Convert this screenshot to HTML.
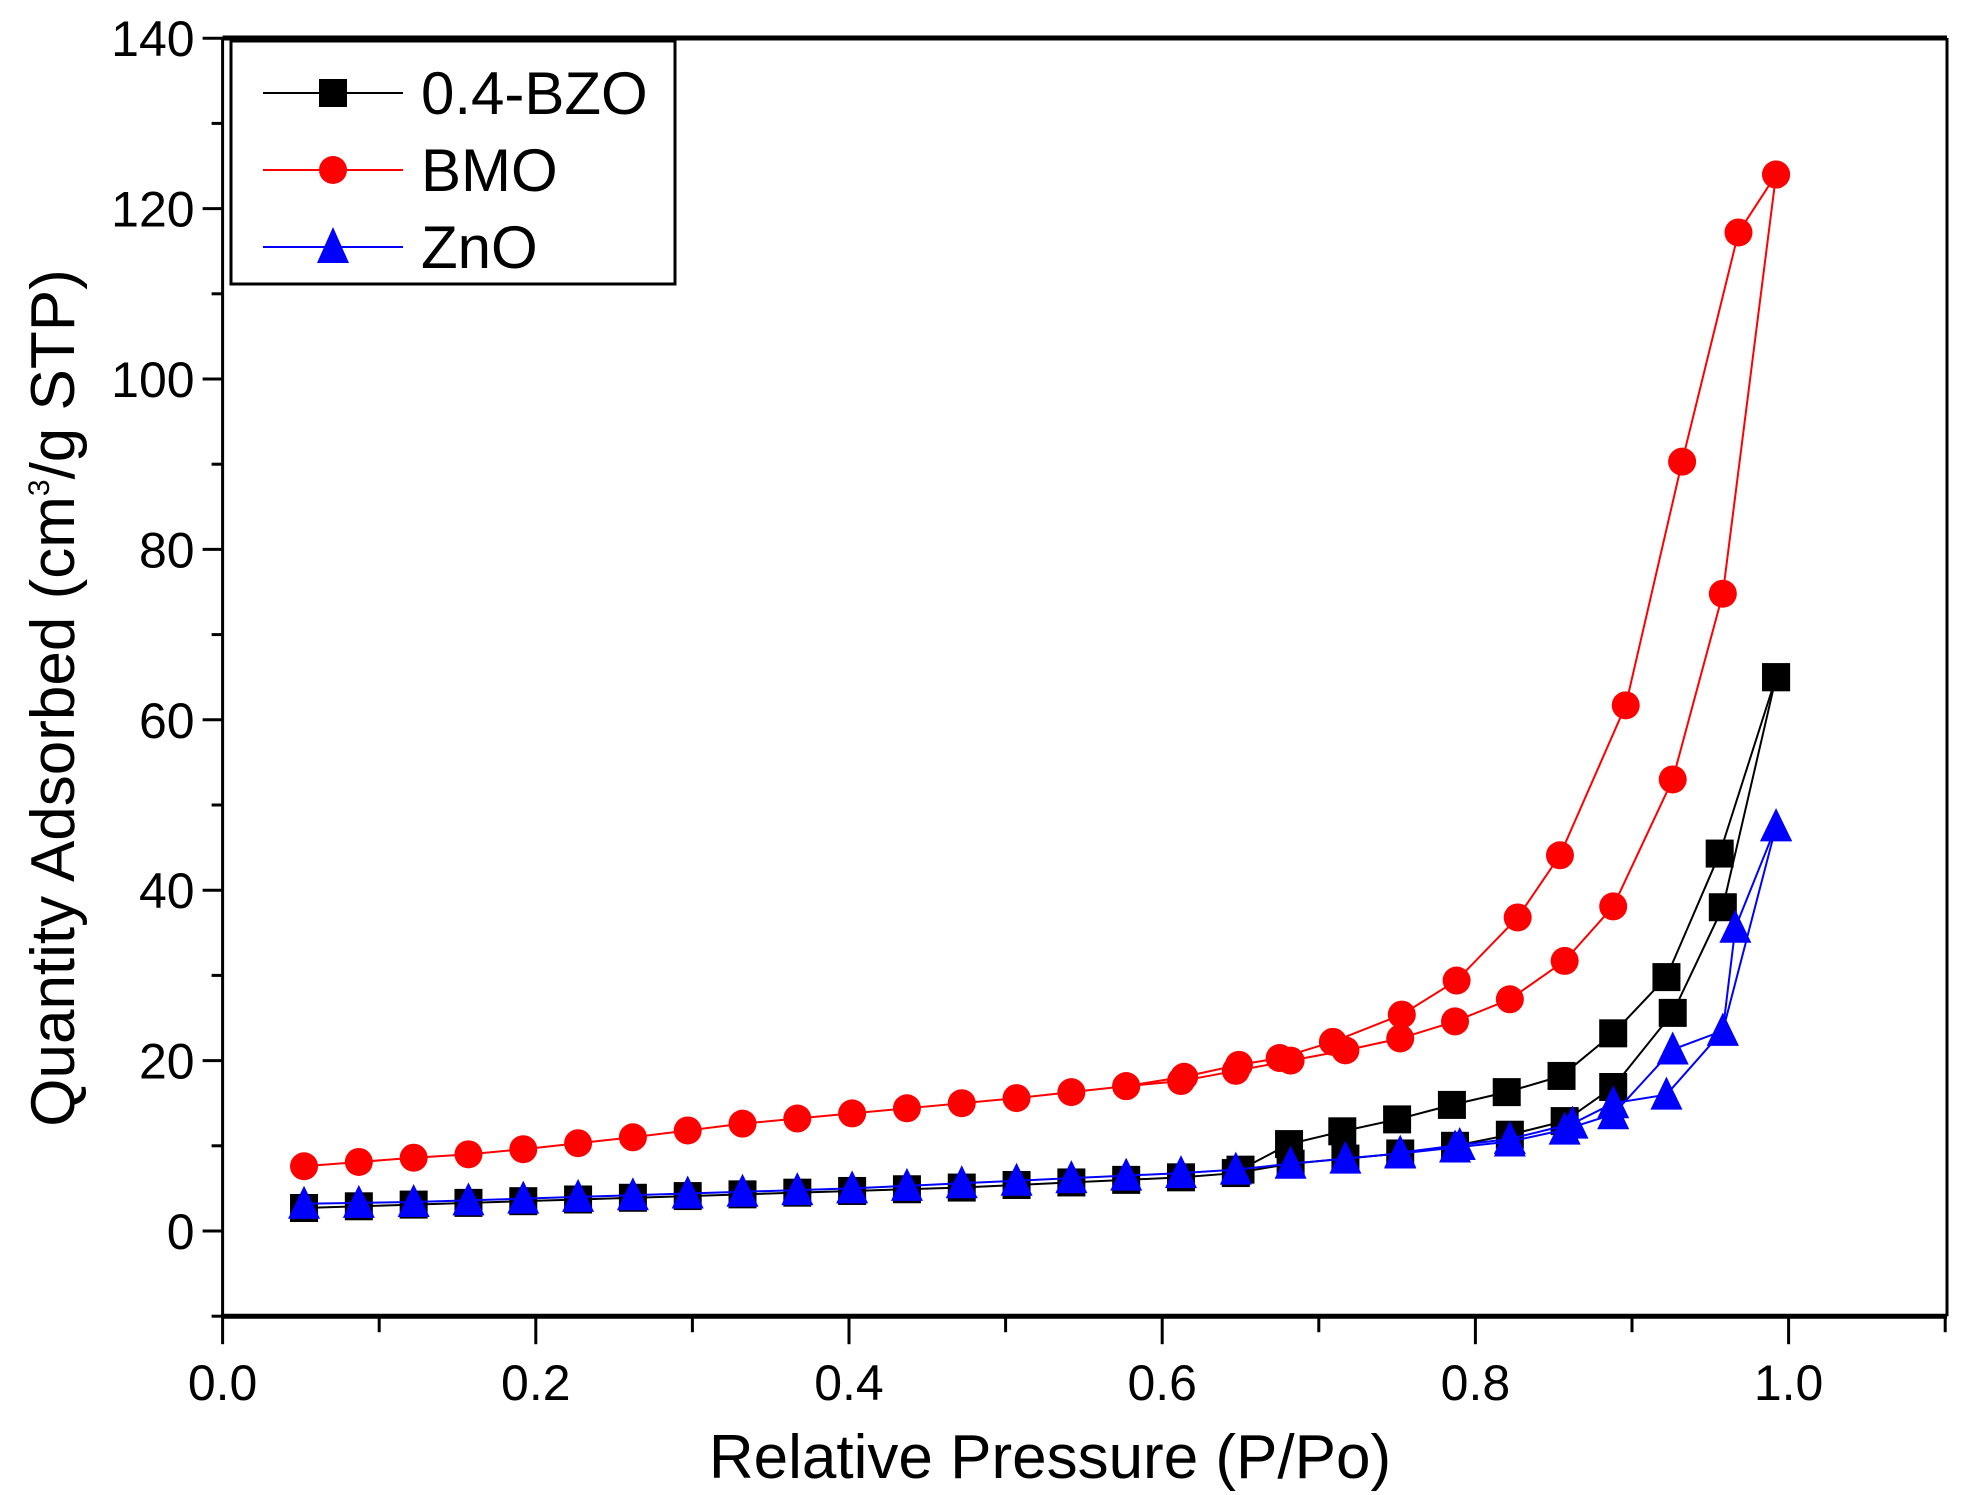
<!DOCTYPE html>
<html><head><meta charset="utf-8"><style>
html,body{margin:0;padding:0;background:#fff;}
svg{display:block;font-family:"Liberation Sans",Arial,sans-serif;}
</style></head><body>
<svg id="s" width="1972" height="1495" viewBox="0 0 1972 1495" xmlns="http://www.w3.org/2000/svg">
<rect width="1972" height="1495" fill="#fff"/>
<g id="ax"></g>
<g id="data"></g>
<rect x="231" y="41" width="444" height="243" fill="#fff" stroke="#000" stroke-width="3"/>
<line x1="263" y1="93" x2="403" y2="93" stroke="#000" stroke-width="2"/>
<rect x="319" y="79" width="28" height="28" fill="#000"/>
<text x="421" y="114" font-size="60">0.4-BZO</text>
<line x1="263" y1="170" x2="403" y2="170" stroke="#f00" stroke-width="2"/>
<circle cx="333" cy="170" r="14" fill="#f00"/>
<text x="421" y="191" font-size="60">BMO</text>
<line x1="263" y1="247" x2="403" y2="247" stroke="#00f" stroke-width="2"/>
<polygon points="333,227 317,263 349,263" fill="#00f"/>
<text x="421" y="268" font-size="60">ZnO</text>
<text x="1050" y="1478" font-size="62" text-anchor="middle">Relative Pressure (P/Po)</text>
<text transform="translate(74,698) rotate(-90)" font-size="62" text-anchor="middle">Quantity Adsorbed (cm<tspan font-size="30" dy="-25">3</tspan><tspan dy="25">/g STP)</tspan></text>
</svg>
<script>
const X=x=>222.6+x*1566, Y=y=>1231-y*8.52;
const NS="http://www.w3.org/2000/svg";
function el(p,t,a){const e=document.createElementNS(NS,t);for(const k in a)e.setAttribute(k,a[k]);p.appendChild(e);return e;}
const ax=document.getElementById('ax');
const L=222.6,R=1947,T=38,B=Y(-10);
el(ax,'line',{x1:L,y1:T,x2:R,y2:T,stroke:'#000','stroke-width':5});
el(ax,'line',{x1:L,y1:B,x2:R,y2:B,stroke:'#000','stroke-width':5});
el(ax,'line',{x1:L,y1:T,x2:L,y2:B,stroke:'#000','stroke-width':3});
el(ax,'line',{x1:R,y1:T,x2:R,y2:B,stroke:'#000','stroke-width':3});
for(let v=-10;v<=140;v+=10){const y=Y(v);const maj=v%20==0;
 el(ax,'line',{x1:L-(maj?20:11),y1:y,x2:L,y2:y,stroke:'#000','stroke-width':3});
 if(maj){const t=el(ax,'text',{x:L-28,y:y+18,'font-size':50,'text-anchor':'end'});t.textContent=v;}}
for(let i=0;i<=11;i++){const x=X(i/10);const maj=i%2==0;
 el(ax,'line',{x1:x,y1:B,x2:x,y2:B+(maj?28:16),stroke:'#000','stroke-width':3});
 if(maj&&i<=10){const t=el(ax,'text',{x:x,y:B+84,'font-size':50,'text-anchor':'middle'});t.textContent=(i/10).toFixed(1);}}
const xa=[0.052,0.087,0.122,0.157,0.192,0.227,0.262,0.297,0.332,0.367,0.402,0.437,0.472,0.507,0.542,0.577,0.612,0.647,0.682,0.717,0.752,0.787,0.822,0.857,0.888,0.926,0.958,0.992];
const bmoA=[7.6,8.1,8.6,9.0,9.6,10.3,11.0,11.8,12.6,13.2,13.8,14.4,15.0,15.6,16.3,17.0,17.6,18.8,20.0,21.2,22.6,24.6,27.2,31.7,38.1,53,74.8,124];
const bmoD=[[0.992,124],[0.968,117.2],[0.932,90.3],[0.896,61.7],[0.854,44.1],[0.827,36.8],[0.788,29.4],[0.753,25.4],[0.709,22.2],[0.675,20.3],[0.649,19.5],[0.614,18.1],[0.577,17.0]];
const bzoA=[2.7,2.9,3.1,3.3,3.5,3.7,3.9,4.1,4.3,4.5,4.7,4.9,5.1,5.4,5.7,6.0,6.3,6.8,7.9,8.5,9.1,10,11.3,12.9,16.9,25.6,38,65];
const bzoD=[[0.992,65],[0.956,44.3],[0.922,29.8],[0.888,23.2],[0.855,18.2],[0.82,16.3],[0.785,14.8],[0.75,13.1],[0.715,11.7],[0.681,10.2],[0.65,7.2]];
const znA=[3.2,3.3,3.4,3.6,3.8,4.0,4.2,4.4,4.6,4.8,5.0,5.3,5.6,5.9,6.2,6.5,6.8,7.2,7.9,8.5,9.1,9.8,10.5,11.9,13.7,21.3,23.5,47.5];
const znD=[[0.992,47.5],[0.966,35.6],[0.958,23.5],[0.922,16],[0.888,15],[0.862,12.6],[0.822,10.8],[0.79,10.1],[0.752,9.2]];
const g=document.getElementById('data');
function series(pts,col,mk){el(g,'polyline',{points:pts.map(p=>X(p[0])+','+Y(p[1])).join(' '),fill:'none',stroke:col,'stroke-width':2});
 pts.forEach(p=>{const x=X(p[0]),y=Y(p[1]);
  if(mk=='s')el(g,'rect',{x:x-14,y:y-14,width:28,height:28,fill:col});
  else if(mk=='c')el(g,'circle',{cx:x,cy:y,r:14,fill:col});
  else el(g,'polygon',{points:`${x},${y-18} ${x-16},${y+15} ${x+16},${y+15}`,fill:col});});}
const z=(a)=>xa.map((x,i)=>[x,a[i]]);
series(z(bmoA),'#f00','c');series(bmoD,'#f00','c');
series(z(bzoA),'#000','s');series(bzoD,'#000','s');
series(z(znA),'#00f','t');series(znD,'#00f','t');
</script>
</body></html>
